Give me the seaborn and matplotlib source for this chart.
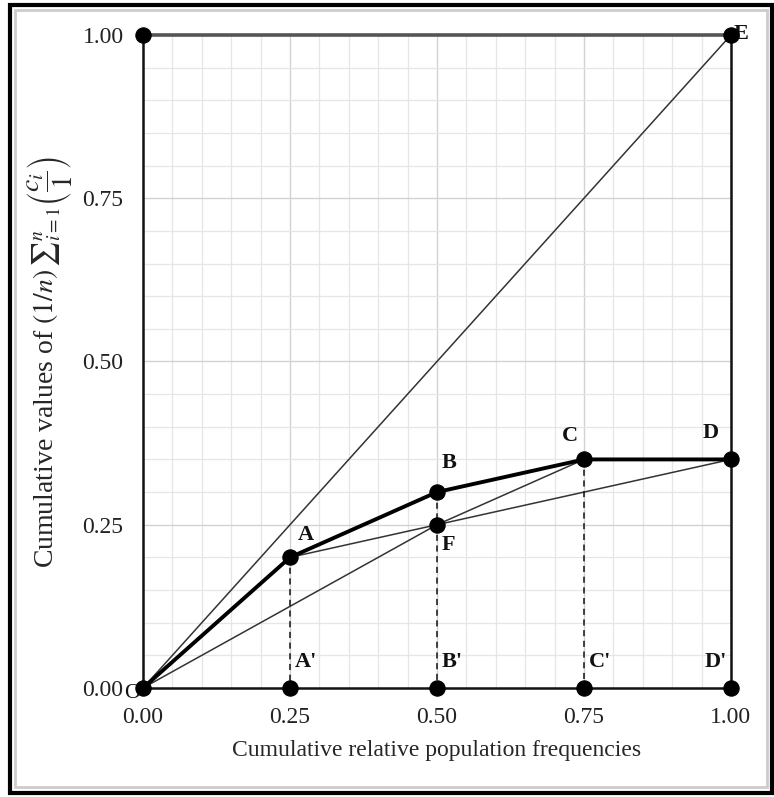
import matplotlib
matplotlib.use("Agg")
import matplotlib.pyplot as plt
import seaborn as sns
import pandas as pd
from matplotlib.patches import Rectangle
from matplotlib.ticker import MultipleLocator

sns.set_style("white")
plt.rcParams["font.family"] = ["Liberation Serif", "DejaVu Serif"]
plt.rcParams["mathtext.fontset"] = "stix"

# data
curve_x = [0.00, 0.25, 0.50, 0.75, 1.00]
curve_y = [0.00, 0.20, 0.30, 0.35, 0.35]
curve_labels = ["O", "A", "B", "C", "D"]
foot_labels = ["A'", "B'", "C'", "D'"]
f_x, f_y = 0.50, 0.25
e_x, e_y = 1.00, 1.00
ticks = [0.00, 0.25, 0.50, 0.75, 1.00]

fig = plt.figure(figsize=(7.74, 7.97), dpi=100)
ax = fig.add_axes([0.1848, 0.1368, 0.7596, 0.8193])

# grid
ax.xaxis.set_minor_locator(MultipleLocator(0.05))
ax.yaxis.set_minor_locator(MultipleLocator(0.05))
ax.grid(which="minor", color="#e6e6e6", lw=0.9)
ax.grid(which="major", color="#d2d2d2", lw=1.0)
ax.set_axisbelow(True)

def seg(xs, ys, lw, color="#222222", ls="-", z=3):
    d = pd.DataFrame({"x": xs, "y": ys})
    sns.lineplot(data=d, x="x", y="y", sort=False, estimator=None, ax=ax,
                 lw=lw, color=color, linestyle=ls, zorder=z)

# diagonal O-E
seg([curve_x[0], e_x], [curve_y[0], e_y], 1.1, "#333333")
# O-F-C and A-F-D
seg([curve_x[0], f_x, curve_x[3]], [curve_y[0], f_y, curve_y[3]], 1.1, "#333333")
seg([curve_x[1], f_x, curve_x[4]], [curve_y[1], f_y, curve_y[4]], 1.1, "#333333")
# dashed drops
for i in (1, 2, 3):
    seg([curve_x[i], curve_x[i]], [curve_y[i], 0], 1.1, "#111111", (0, (4, 3)))
# main curve
seg(curve_x, curve_y, 2.8, "black", z=4)

# points
pts = pd.DataFrame({
    "x": curve_x + [f_x, e_x, 0.0] + curve_x[1:],
    "y": curve_y + [f_y, e_y, 1.0] + [0.0] * 4,
})
sns.scatterplot(data=pts, x="x", y="y", s=120, color="black", edgecolor="black",
                ax=ax, zorder=6, clip_on=False)

# point labels
lab = dict(textcoords="offset pixels", fontsize=16, fontweight="bold",
           color="#111111", va="center")
offs = [None, (8, 22), (5, 29), (-22, 23), (-28, 26)]
for i in range(1, 5):
    ax.annotate(curve_labels[i], (curve_x[i], curve_y[i]), xytext=offs[i], ha="left", **lab)
ax.annotate("F", (f_x, f_y), xytext=(5, -20), ha="left", **lab)
ax.annotate("E", (e_x, e_y), xytext=(3, 1), ha="left", **lab)
ax.annotate("O", (0, 0), xytext=(-11, -6), ha="center", textcoords="offset pixels",
            fontsize=16, va="center", color="#111111")
for i, t in enumerate(foot_labels):
    if i < 3:
        ax.annotate(t, (curve_x[i + 1], 0), xytext=(5, 26), ha="left", **lab)
    else:
        ax.annotate(t, (curve_x[i + 1], 0), xytext=(-4, 26), ha="right", **lab)

ax.set_xlim(0, 1)
ax.set_ylim(0, 1)
ax.set_xticks(ticks)
ax.set_yticks(ticks)
ax.set_xticklabels([f"{t:.2f}" for t in ticks])
ax.set_yticklabels([f"{t:.2f}" for t in ticks])
ax.tick_params(which="both", length=0, labelsize=17, colors="#222222")
ax.tick_params(axis="x", pad=14)
ax.tick_params(axis="y", pad=14)

ax.set_xlabel("Cumulative relative population frequencies", fontsize=17, labelpad=8)
ax.set_ylabel(r"Cumulative values of $(1/n)\,{\sum}_{i=1}^{n}\left(\dfrac{c_i}{1}\right)$",
              fontsize=20, labelpad=6)

for side in ["left", "bottom", "right"]:
    ax.spines[side].set_color("#111111")
    ax.spines[side].set_linewidth(1.8)
ax.spines["top"].set_color("#555555")
ax.spines["top"].set_linewidth(2.6)

# outer frame of the picture
fig.patches.append(Rectangle((0.0129, 0.005), 0.9845, 0.9887, transform=fig.transFigure,
                             fill=False, lw=3, edgecolor="black"))
fig.patches.append(Rectangle((0.020, 0.012), 0.971, 0.975, transform=fig.transFigure,
                             fill=False, lw=2, edgecolor="#cccccc"))

fig.savefig("out.png", dpi=100)
